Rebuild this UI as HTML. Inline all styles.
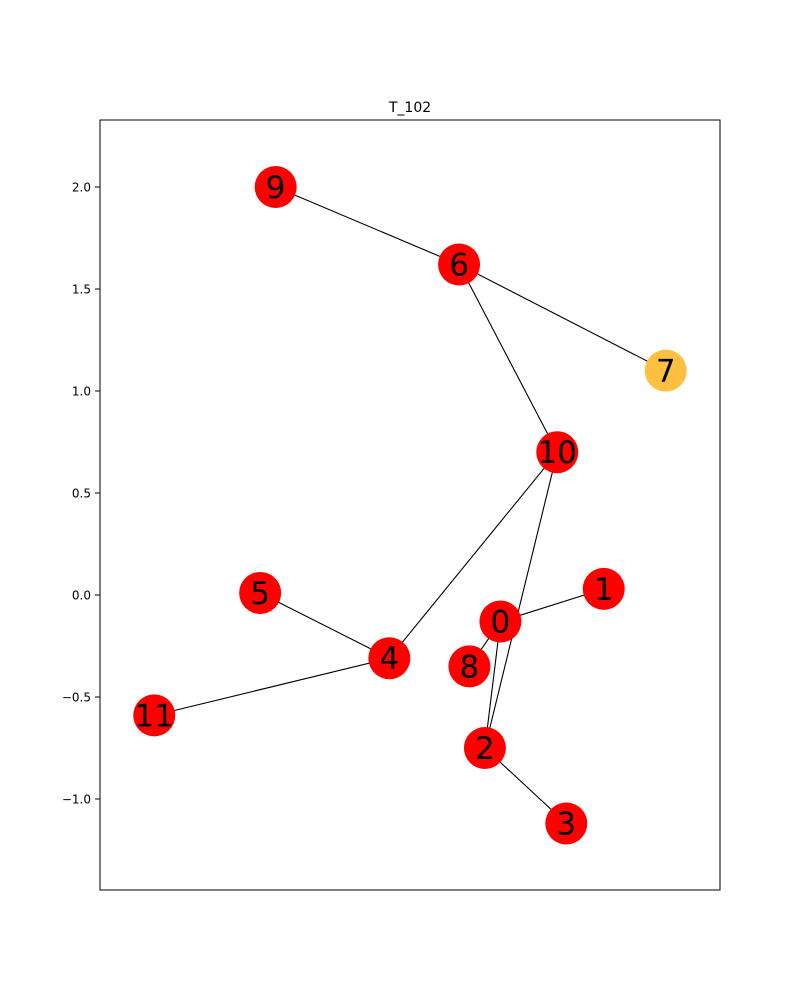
<!DOCTYPE html>
<html><head><meta charset="utf-8"><style>body{margin:0;background:#fff}svg{display:block;font-family:"DejaVu Sans","Liberation Sans",sans-serif}</style></head>
<body>
<svg id="chart" width="800" height="1000" xmlns="http://www.w3.org/2000/svg">
<text x="410" y="112" font-size="14" text-anchor="middle">T_102</text>
<g id="edges"></g>
<g id="nodes"></g>
<g id="yaxis"></g>
<rect x="100" y="120" width="620" height="770" fill="none" stroke="#000" stroke-width="1"/>
</svg>
<script>
const nodeIds = [0,1,2,3,4,5,6,7,8,9,10,11];
const nodeX = [0.35,0.75,0.29,0.605,-0.08,-0.58,0.19,0.99,0.23,-0.52,0.57,-0.99];
const nodeY = [-0.13,0.03,-0.75,-1.12,-0.31,0.01,1.62,1.10,-0.35,2.00,0.70,-0.59];
const nodeColors = ["#ff0000","#ff0000","#ff0000","#ff0000","#ff0000","#ff0000","#ff0000","#ffc040","#ff0000","#ff0000","#ff0000","#ff0000"];
const edgeFrom = [9,6,6,10,10,4,4,0,0,0,2];
const edgeTo   = [6,7,10,4,2,5,11,1,8,2,3];
const yTicks = [-1.0,-0.5,0.0,0.5,1.0,1.5,2.0];
const yTickLabels = ["\u22121.0","\u22120.5","0.0","0.5","1.0","1.5","2.0"];
const NS="http://www.w3.org/2000/svg";
const sx = x => 100 + (x + 1.2) / 2.4 * 620;
const sy = y => 595 - y * 204;
const eg=document.getElementById('edges'), ng=document.getElementById('nodes'), yg=document.getElementById('yaxis');
for(let i=0;i<edgeFrom.length;i++){
  const a=edgeFrom[i], b=edgeTo[i];
  const l=document.createElementNS(NS,'line');
  
  
  l.setAttribute('x1',sx(nodeX[a]));l.setAttribute('y1',sy(nodeY[a]));
  l.setAttribute('x2',sx(nodeX[b]));l.setAttribute('y2',sy(nodeY[b]));
  l.setAttribute('stroke','#000');l.setAttribute('stroke-width','1.1');
  eg.appendChild(l);
}
for(let i=0;i<nodeIds.length;i++){
  const g=document.createElementNS(NS,'g');
  
  
  const c=document.createElementNS(NS,'circle');
  c.setAttribute('cx',sx(nodeX[i]));c.setAttribute('cy',sy(nodeY[i]));c.setAttribute('r',21);
  c.setAttribute('fill',nodeColors[i]);
  g.appendChild(c);
  const t=document.createElementNS(NS,'text');
  t.setAttribute('x',sx(nodeX[i]));t.setAttribute('y',sy(nodeY[i])+11);
  t.setAttribute('font-size','31');t.setAttribute('text-anchor','middle');
  t.textContent=nodeIds[i];
  g.appendChild(t);
  ng.appendChild(g);
}
for(let i=0;i<yTicks.length;i++){
  const y=sy(yTicks[i]);
  const l=document.createElementNS(NS,'line');
  
  
  l.setAttribute('x1',95);l.setAttribute('x2',100);l.setAttribute('y1',y);l.setAttribute('y2',y);
  l.setAttribute('stroke','#000');
  yg.appendChild(l);
  const t=document.createElementNS(NS,'text');
  
  
  t.setAttribute('x',91);t.setAttribute('y',y+4.5);t.setAttribute('font-size','12');t.setAttribute('text-anchor','end');
  t.textContent=yTickLabels[i];
  yg.appendChild(t);
}
</script>
</body></html>
